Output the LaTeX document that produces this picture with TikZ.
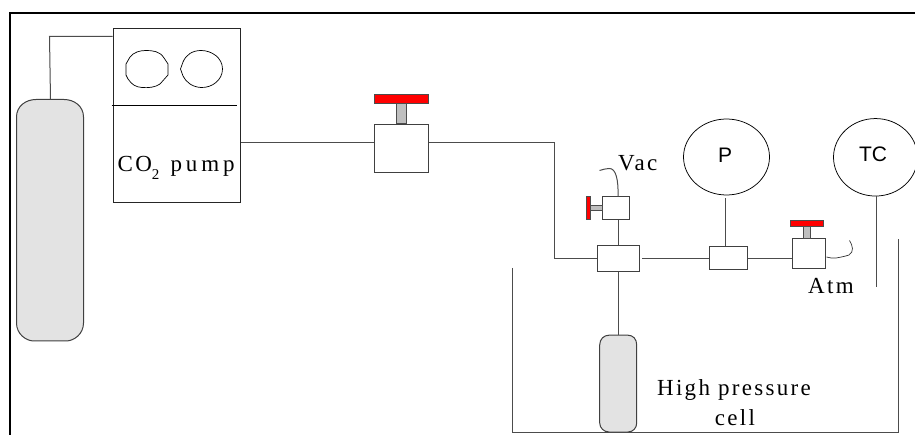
\documentclass[tikz,border=0pt]{standalone}
\usepackage{fontspec}
\usetikzlibrary{shapes.geometric}
\setmainfont{Liberation Serif}
\newfontfamily\arialf{Liberation Sans}
\newfontfamily\lblf[LetterSpace=10]{Liberation Serif}
\newfontfamily\lblg[LetterSpace=17]{Liberation Serif}
\tikzset{
  x=1pt,y=-1pt,
  pipe/.style={draw=black!70!white,line width=1pt},
  boxp/.style={draw=black!75!white,line width=1pt,fill=white},
  handle/.style={draw=black!70!white,line width=1pt,fill=red},
  stem/.style={draw=black!70!white,line width=1pt,fill=black!25},
  tank/.style={draw=black!75!white,line width=1pt,fill=black!11},
  thinline/.style={draw=black,line width=0.7pt},
  lbl/.style={inner sep=0pt,font=\lblf\fontsize{23}{26}\selectfont},
  slbl/.style={inner sep=0pt,font=\arialf\fontsize{21}{24}\selectfont},
  gauge/.style={draw=black,line width=0.75pt,ellipse,inner sep=0pt},
}
\begin{document}
\begin{tikzpicture}
\useasboundingbox (0,0) rectangle (915,435);
\fill[white] (0,0) rectangle (915,435);
\draw[black,line width=2pt] (10,435) -- (10,13) -- (915,13);

% cylinder
\path[tank] (16.5,117) .. controls (16.5,106) and (26,99.5) .. (36,99.5) -- (64,99.5) .. controls (74,99.5) and (83.5,106) .. (83.5,117) -- (83.5,323) .. controls (83.5,334) and (74,341) .. (66,341) -- (34,341) .. controls (26,341) and (16.5,334) .. (16.5,323) -- cycle;
\coordinate (cyltop) at (50.5,99.5);

% pump
\node[draw=black!85!white,line width=0.85pt,minimum width=127.5pt,minimum height=174pt,inner sep=0pt,anchor=north west] (pump) at (112.5,28.5) {};
\draw[thinline] (111.5,105) -- (237,105);
\draw[thinline] (146,50.5) .. controls (152,50.5) and (160,51) .. (164,58) -- (168,64) -- (168,75) -- (160,84) .. controls (155,87.5) and (148,88) .. (142,87.5) .. controls (136,87) and (132,85) .. (128,79) -- (126,75) -- (126,64) -- (130,57) .. controls (134,52) and (140,50.5) .. (146,50.5) -- cycle;
\draw[thinline] (201,50.5) .. controls (212,50.5) and (222.5,58) .. (222.5,69) .. controls (222.5,80) and (212,88) .. (201,87.5) .. controls (192,87) and (186,82) .. (183,76) -- (180.5,69) -- (183,62) .. controls (186,55) and (192,50.5) .. (201,50.5) -- cycle;
\node[lbl,anchor=base west] (pumpl) at (117.5,172) {CO\raisebox{-8pt}{\fontsize{15}{16}\selectfont 2}\hspace{3pt} {\lblg pump}};
\draw[pipe] (cyltop) -- (49.5,36.5) -- (112.5,36.5);

% main valve
\node[boxp,minimum width=54pt,minimum height=48.5pt,inner sep=0pt] (v1) at (401,148.3) {};
\path[stem] (396,102) rectangle (406,124);
\path[handle] (374,95) rectangle (428,103.5);
\coordinate (bend1) at (554,143);
\node[boxp,minimum width=42.5pt,minimum height=25.5pt,inner sep=0pt] (tee) at (618.5,258.5) {};
\draw[pipe] (pump.east |- 0,143) -- (v1.west |- 0,143);
\draw[pipe] (v1.east |- 0,143) -- (bend1) -- (554,258.5) -- (tee.west);

% vac valve
\node[boxp,minimum width=27.5pt,minimum height=23.5pt,inner sep=0pt] (v2) at (616,208) {};
\path[stem] (590,205.5) rectangle (602,210.5);
\path[handle] (586.5,196.5) rectangle (590.5,220);
\draw[pipe] (v2.south -| 618,0) -- (tee.north -| 618,0);
\draw[pipe] (618,196.5) .. controls (618.5,180) and (616,168) .. (609,168.5) .. controls (606,168.5) and (603,169.5) .. (599.5,170.5);
\node[lbl,anchor=base west] (vac) at (618,171) {Vac};

% gauge tee
\node[boxp,minimum width=38pt,minimum height=23pt,inner sep=0pt] (tee2) at (728.5,258.5) {};
\draw[pipe] (tee.east) ++(2,0) -- (tee2.west);
\node[gauge,minimum width=86pt,minimum height=76pt] (P) at (726.5,157) {};
\node[slbl] (pl) at (725,155.7) {P};
\draw[pipe] (P.south -| 725.7,0) ++(0,3) -- (tee2.north -| 725.7,0);

% atm valve
\node[boxp,minimum width=33.5pt,minimum height=30pt,inner sep=0pt] (v3) at (809,254) {};
\path[stem] (803.5,226) rectangle (810,239);
\path[handle] (790.5,220.5) rectangle (823.5,226.5);
\draw[pipe] (tee2.east) -- (v3.west |- tee2.east);
\draw[black!80!white,line width=0.7pt] (826.5,257) .. controls (830,258) and (833,258.5) .. (836,258) .. controls (842,257) and (846,256) .. (849,255) .. controls (854,252) and (853,246) .. (849.5,240.5);
\node[lbl,anchor=base west] (atm) at (808,294) {Atm};

% TC
\node[gauge,minimum width=84pt,minimum height=77.5pt] (TC) at (875.5,157.3) {};
\node[slbl] (tcl) at (873,154.5) {TC};
\coordinate (tcbot) at (876,287);
\draw[pipe] (TC.south -| tcbot) -- (tcbot);

% bath
\draw[black!70!white,line width=1pt] (512,268) -- (512,432.5) -- (898,432.5) -- (898,239);

% cell
\path[tank] (599.7,345) .. controls (599.7,339) and (604,335.2) .. (609,335.2) -- (628,335.2) .. controls (633,335.2) and (636.7,339) .. (636.7,345) -- (636.7,423) .. controls (636.7,428) and (633,432) .. (628,432) -- (609,432) .. controls (604,432) and (599.7,428) .. (599.7,423) -- cycle;
\coordinate (celltop) at (618,335.2);
\draw[pipe] (tee.south -| 618,0) -- (celltop);
\node[lbl,anchor=base] (hp) at (734,395) {High pressure};
\node[lbl,anchor=base] (cl) at (735,425) {cell};
\end{tikzpicture}
\end{document}
